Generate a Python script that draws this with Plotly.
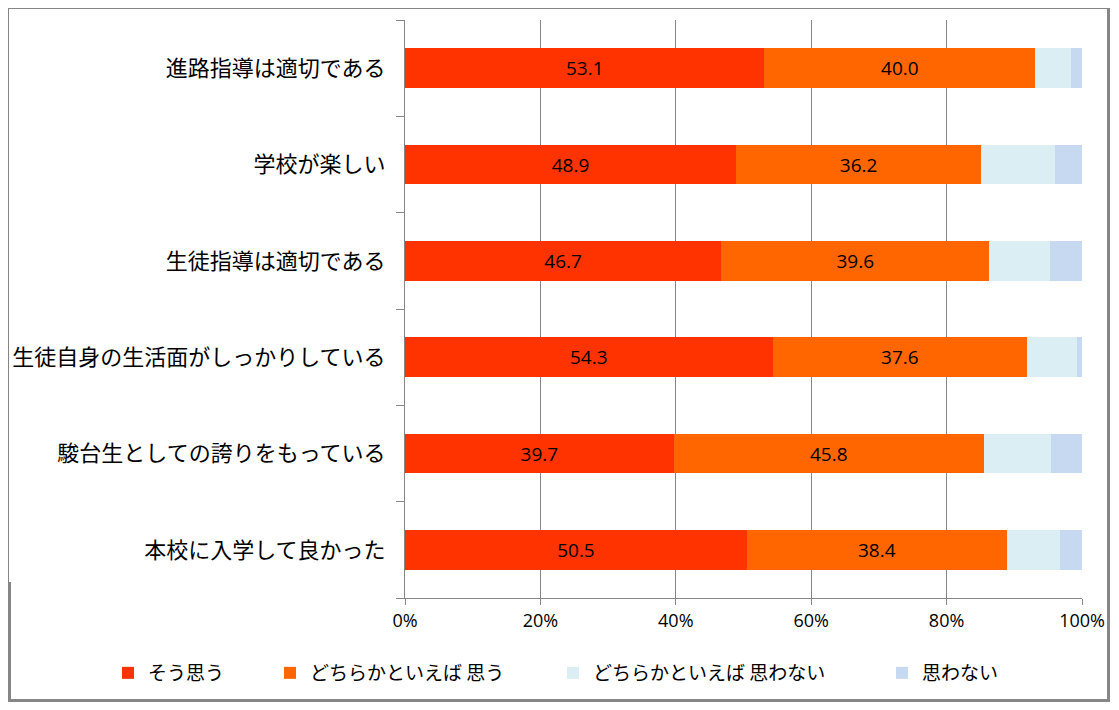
import plotly.graph_objects as go

categories = ['進路指導は適切である', '学校が楽しい', '生徒指導は適切である',
              '生徒自身の生活面がしっかりしている', '駿台生としての誇りをもっている',
              '本校に入学して良かった']

series_names = ['そう思う', 'どちらかといえば 思う', 'どちらかといえば 思わない', '思わない']
sou_omou = [53.1, 48.9, 46.7, 54.3, 39.7, 50.5]
dochira_omou = [40.0, 36.2, 39.6, 37.6, 45.8, 38.4]
dochira_omowanai = [5.3, 10.9, 8.9, 7.3, 9.9, 7.8]
omowanai = [1.6, 4.0, 4.8, 0.8, 4.6, 3.3]

x_ticks = [0, 20, 40, 60, 80, 100]
x_ticktext = ['0%', '20%', '40%', '60%', '80%', '100%']

colors = ['#FF3300', '#FF6600', '#DAEEF3', '#C6D9F1']
values = [sou_omou, dochira_omou, dochira_omowanai, omowanai]

# the page body has an 8px margin; keep the figure inside the window
OFF = 8
W, H = 1119 - 2 * OFF, 710 - 2 * OFF
L, T = 405 - OFF, 20 - OFF
R = (W + OFF) - 1082
B = (H + OFF) - 598
pw, ph = W - L - R, H - T - B

legend_text_x = [148, 310, 593, 922]

fig = go.Figure()
for i, (name, vals, col) in enumerate(zip(series_names, values, colors)):
    fig.add_trace(go.Bar(
        y=categories, x=vals, name=name, orientation='h',
        marker=dict(color=col, line=dict(width=0)),
        text=[f'{v:.1f}' for v in vals] if i < 2 else None,
        textposition='inside' if i < 2 else 'none',
        insidetextanchor='middle',
        textfont=dict(color='black', size=19, family='Open Sans, sans-serif'),
        hoverinfo='x+name',
        showlegend=True,
        legend='legend' if i == 0 else f'legend{i + 1}',
    ))

legends = {}
for i, tx in enumerate(legend_text_x):
    key = 'legend' if i == 0 else f'legend{i + 1}'
    legends[key] = dict(
        x=(tx - OFF - 40) / W, y=1 - (673 - OFF) / H,
        xref='container', yref='container',
        xanchor='left', yanchor='middle', orientation='h',
        font=dict(size=19, color='black'), bgcolor='rgba(0,0,0,0)',
        itemwidth=30,
    )


# outer frame (page pixel coords -> paper coords)
def px_x(p):
    return (p - OFF - L) / pw


def px_y(p):
    return (H - B - (p - OFF)) / ph


frame = '#868686'
shapes = [
    dict(type='line', xref='paper', yref='paper', x0=px_x(8), x1=px_x(1108),
         y0=px_y(8.5), y1=px_y(8.5), line=dict(color=frame, width=1)),
    dict(type='line', xref='paper', yref='paper', x0=px_x(8.5), x1=px_x(8.5),
         y0=px_y(8), y1=px_y(582), line=dict(color=frame, width=1)),
    dict(type='line', xref='paper', yref='paper', x0=px_x(9.5), x1=px_x(9.5),
         y0=px_y(582), y1=px_y(702), line=dict(color=frame, width=3)),
    dict(type='line', xref='paper', yref='paper', x0=px_x(1108.5), x1=px_x(1108.5),
         y0=px_y(8), y1=px_y(702), line=dict(color=frame, width=3)),
    dict(type='line', xref='paper', yref='paper', x0=px_x(8), x1=px_x(1110),
         y0=px_y(700.5), y1=px_y(700.5), line=dict(color=frame, width=3)),
]

fig.update_layout(
    barmode='stack', bargap=0.59,
    width=W, height=H,
    margin=dict(l=L, r=R, t=T, b=B, autoexpand=False),
    paper_bgcolor='white', plot_bgcolor='white',
    showlegend=True,
    font=dict(family='Noto Sans CJK JP, sans-serif', color='black'),
    xaxis=dict(range=[0, 100], tickvals=x_ticks, ticktext=x_ticktext,
               showgrid=True, gridcolor='#868686', gridwidth=1,
               showline=True, linecolor='#868686', linewidth=1,
               ticks='outside', ticklen=6, tickcolor='#868686',
               tickfont=dict(size=18, color='black', family='Open Sans, sans-serif'),
               zeroline=False),
    yaxis=dict(categoryorder='array', categoryarray=categories[::-1],
               showline=True, linecolor='#868686', linewidth=1,
               ticks='outside', ticklen=8, tickcolor='#868686',
               tickson='boundaries', ticklabelstandoff=14,
               tickfont=dict(size=22, color='black'),
               showgrid=False),
    shapes=shapes,
    **legends,
)

fig.write_html('out.html')
